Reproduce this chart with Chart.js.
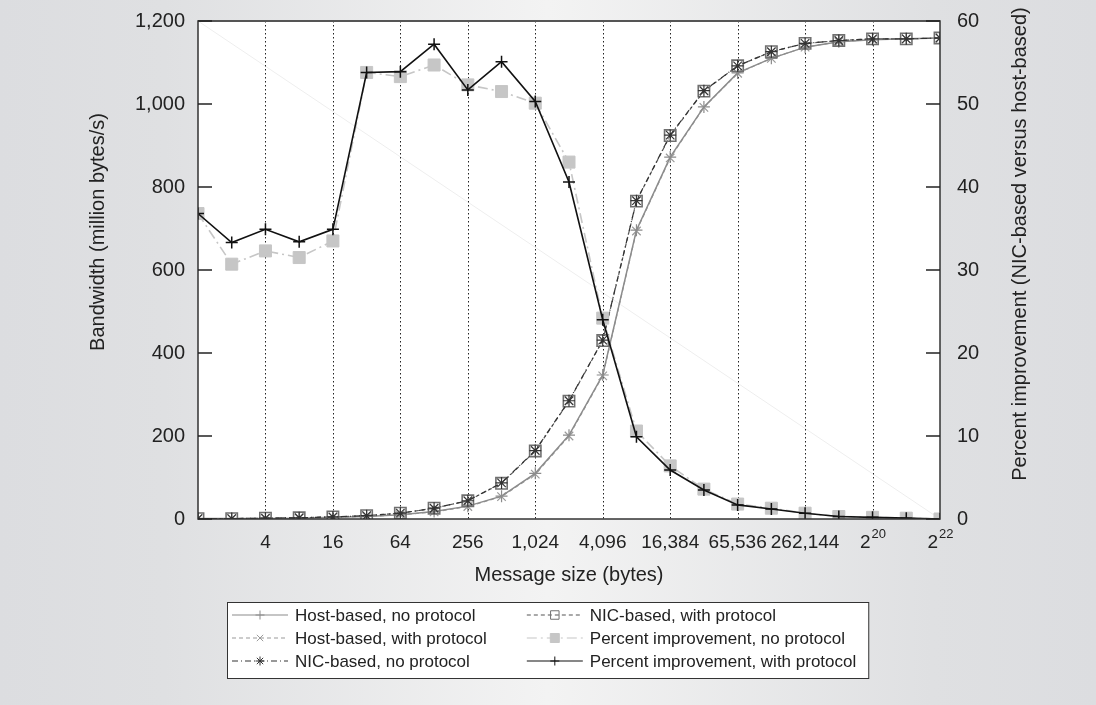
<!DOCTYPE html>
<html>
<head>
<meta charset="utf-8">
<script src="https://cdn.jsdelivr.net/npm/chart.js@4.4.0/dist/chart.umd.min.js"></script>
<style>
  html, body { margin: 0; padding: 0; }
  body {
    width: 1096px; height: 705px; overflow: hidden;
    background: linear-gradient(90deg, #dcdde0 0%, #dfe0e2 15%, #f3f3f3 50%, #dfe0e2 85%, #dcdde0 100%);
  }
  canvas { display: block; }
</style>
</head>
<body>
<canvas id="chart" width="1096" height="705"></canvas>
<script>
// message size index k means 2^k bytes
const sizeExp = [0, 1, 2, 3, 4, 5, 6, 7, 8, 9, 10, 11, 12, 13, 14, 15, 16, 17, 18, 19, 20, 21, 22];

// bandwidth, million bytes/s
const hostNoProto = [1, 1, 1, 2, 4, 6, 10, 18, 31, 55, 110, 202, 347, 696, 872, 993, 1075, 1110, 1137, 1150, 1155, 1157, 1159];
const hostProto   = [1, 1, 1, 2, 4, 6, 10, 17, 30, 54, 108, 200, 345, 694, 870, 992, 1074, 1110, 1137, 1150, 1155, 1157, 1159];
const nicNoProto  = [1, 1, 2, 3, 5, 8, 14, 26, 44, 87, 165, 285, 431, 767, 925, 1032, 1092, 1126, 1146, 1153, 1157, 1157, 1159];
const nicProto    = [1, 1, 2, 3, 5, 8, 14, 26, 44, 86, 164, 284, 430, 766, 924, 1031, 1092, 1126, 1146, 1153, 1157, 1157, 1159];

// percent improvement, NIC vs host
const pctNoProto = [36.8, 30.7, 32.3, 31.5, 33.5, 53.8, 53.3, 54.7, 52.3, 51.5, 50.1, 43.0, 24.2, 10.6, 6.4, 3.6, 1.8, 1.3, 0.7, 0.3, 0.2, 0.1, 0];
const pctProto   = [36.8, 33.3, 34.9, 33.4, 34.9, 53.8, 53.9, 57.2, 51.7, 55.1, 50.3, 40.6, 24.0, 9.9, 5.9, 3.5, 1.7, 1.2, 0.7, 0.3, 0.2, 0.1, 0];

// faint diagonal guide across the plot
const guideX = [0, 22];
const guideY = [1200, 0];

const tickExp = [2, 4, 6, 8, 10, 12, 14, 16, 18, 20, 22];
const tickLabels = ['4', '16', '64', '256', '1,024', '4,096', '16,384', '65,536', '262,144', '2^20', '2^22'];

const FONT = '"Liberation Sans", Arial, Helvetica, sans-serif';

function pts(ys, xs) {
    xs = xs || sizeExp;
    return ys.map((y, i) => ({ x: xs[i], y: y }));
}

const datasets = [
    {
        label: 'Percent improvement, with protocol',
        data: pts(pctProto), yAxisID: 'y1', order: 0,
        borderColor: '#111', borderWidth: 1.6,
        pointStyle: 'cross', pointRadius: 6, pointBorderColor: '#111', pointBorderWidth: 1.5
    },
    {
        label: 'Percent improvement, no protocol',
        data: pts(pctNoProto), yAxisID: 'y1', order: 1,
        borderColor: '#c6c6c6', borderWidth: 1.6, borderDash: [10, 4, 2, 4],
        pointStyle: 'rect', pointRadius: 8.5, pointBackgroundColor: '#c6c6c6', pointBorderColor: '#c6c6c6', pointBorderWidth: 1
    },
    {
        label: 'NIC-based, no protocol',
        data: pts(nicNoProto), yAxisID: 'y', order: 2,
        borderColor: '#333', borderWidth: 1.2, borderDash: [6, 3, 1, 3],
        pointStyle: 'star', pointRadius: 6, pointBorderColor: '#333', pointBorderWidth: 1.2
    },
    {
        label: 'NIC-based, with protocol',
        data: pts(nicProto), yAxisID: 'y', order: 3,
        borderColor: '#555', borderWidth: 1.2, borderDash: [4, 3],
        pointStyle: 'rect', pointRadius: 8, pointBackgroundColor: 'rgba(0,0,0,0)', pointBorderColor: '#707070', pointBorderWidth: 1.6
    },
    {
        label: 'Host-based, no protocol',
        data: pts(hostNoProto), yAxisID: 'y', order: 4,
        borderColor: '#8c8c8c', borderWidth: 1.5,
        pointStyle: 'cross', pointRadius: 6, pointBorderColor: '#8c8c8c', pointBorderWidth: 1.2
    },
    {
        label: 'Host-based, with protocol',
        data: pts(hostProto), yAxisID: 'y', order: 5,
        borderColor: '#9a9a9a', borderWidth: 1.2, borderDash: [4, 3],
        pointStyle: 'crossRot', pointRadius: 6, pointBorderColor: '#9a9a9a', pointBorderWidth: 1.2
    },
    {
        label: 'guide',
        data: pts(guideY, guideX), yAxisID: 'y', order: 6,
        borderColor: 'rgba(0,0,0,0.07)', borderWidth: 1, pointRadius: 0
    }
];

const legendCols = [
    ['Host-based, no protocol', 'Host-based, with protocol', 'NIC-based, no protocol'],
    ['NIC-based, with protocol', 'Percent improvement, no protocol', 'Percent improvement, with protocol']
];

function drawSuperLabel(ctx, text, x, y) {
    const parts = text.split('^');
    ctx.font = '19px ' + FONT;
    if (parts.length === 1) {
        ctx.textAlign = 'center';
        ctx.fillText(text, x, y);
        return;
    }
    const wb = ctx.measureText(parts[0]).width;
    ctx.font = '13px ' + FONT;
    const we = ctx.measureText(parts[1]).width;
    const x0 = x - (wb + we) / 2;
    ctx.textAlign = 'left';
    ctx.font = '19px ' + FONT;
    ctx.fillText(parts[0], x0, y);
    ctx.font = '13px ' + FONT;
    ctx.fillText(parts[1], x0 + wb + 1, y - 9);
}

// hide the automatic label overhang so the plot box keeps its place
function fixPad(scale) {
    scale.paddingTop = 0;
    scale.paddingBottom = 0;
}

const framePlugin = {
    id: 'frame',
    beforeDatasetsDraw(chart) {
        const { ctx, chartArea: a, scales } = chart;
        ctx.save();
        ctx.fillStyle = '#fff';
        ctx.fillRect(a.left, a.top, a.right - a.left, a.bottom - a.top);
        // dotted verticals at labelled sizes
        ctx.strokeStyle = '#222';
        ctx.lineWidth = 1;
        ctx.setLineDash([1.5, 2.5]);
        tickExp.forEach(k => {
            if (k >= 22) return;
            const x = Math.round(scales.x.getPixelForValue(k)) + 0.5;
            ctx.beginPath();
            ctx.moveTo(x, a.top);
            ctx.lineTo(x, a.bottom);
            ctx.stroke();
        });
        ctx.restore();
    },
    afterDatasetsDraw(chart) {
        const { ctx, chartArea: a, scales } = chart;
        ctx.save();
        ctx.setLineDash([]);
        ctx.strokeStyle = '#333';
        ctx.lineWidth = 1.5;
        ctx.strokeRect(a.left, a.top, a.right - a.left, a.bottom - a.top);
        ctx.lineWidth = 2;
        ctx.strokeStyle = '#555';
        ctx.beginPath();
        ctx.moveTo(a.left, a.top);
        ctx.lineTo(a.right, a.top);
        ctx.stroke();

        // inward tick marks on both value axes
        ctx.lineWidth = 1.5;
        ctx.strokeStyle = '#222';
        scales.y.ticks.forEach(t => {
            const y = scales.y.getPixelForValue(t.value);
            ctx.beginPath();
            ctx.moveTo(a.left, y);
            ctx.lineTo(a.left + 14, y);
            ctx.stroke();
        });
        scales.y1.ticks.forEach(t => {
            const y = scales.y1.getPixelForValue(t.value);
            ctx.beginPath();
            ctx.moveTo(a.right, y);
            ctx.lineTo(a.right - 14, y);
            ctx.stroke();
        });

        // x tick labels
        ctx.fillStyle = '#222';
        ctx.textBaseline = 'middle';
        tickExp.forEach((k, i) => {
            drawSuperLabel(ctx, tickLabels[i], scales.x.getPixelForValue(k), a.bottom + 24);
        });

        // axis titles
        ctx.font = '20px ' + FONT;
        ctx.textAlign = 'center';
        ctx.fillText('Message size (bytes)', (a.left + a.right) / 2, a.bottom + 56);
        ctx.save();
        ctx.translate(98, 232);
        ctx.rotate(-Math.PI / 2);
        ctx.fillText('Bandwidth (million bytes/s)', 0, 0);
        ctx.restore();
        ctx.save();
        ctx.translate(1020, 244);
        ctx.rotate(-Math.PI / 2);
        ctx.fillText('Percent improvement (NIC-based versus host-based)', 0, 0);
        ctx.restore();

        drawLegend(chart);
        ctx.restore();
    }
};

function drawLegend(chart) {
    const ctx = chart.ctx;
    const byLabel = {};
    chart.data.datasets.forEach(d => { byLabel[d.label] = d; });
    ctx.font = '17px ' + FONT;
    const colW = legendCols.map(c => Math.max(...c.map(s => ctx.measureText(s).width)));
    const x0 = 227, y0 = 602, rowH = 23, sampleW = 56;
    const colX = [x0 + 5, x0 + 5 + sampleW + 7 + colW[0] + 40];
    const boxW = colX[1] + sampleW + 7 + colW[1] + 12 - x0;

    ctx.fillStyle = '#fff';
    ctx.fillRect(x0, y0, boxW, 76);
    ctx.strokeStyle = '#333';
    ctx.lineWidth = 1;
    ctx.strokeRect(x0 + 0.5, y0 + 0.5, boxW, 76);

    legendCols.forEach((col, ci) => {
        col.forEach((label, ri) => {
            const d = byLabel[label];
            const y = y0 + 13 + ri * rowH;
            const sx = colX[ci];
            ctx.save();
            ctx.strokeStyle = d.borderColor;
            ctx.lineWidth = 1.2;
            ctx.setLineDash(d.borderDash || []);
            ctx.beginPath();
            ctx.moveTo(sx, y);
            ctx.lineTo(sx + sampleW, y);
            ctx.stroke();
            ctx.setLineDash([]);
            ctx.strokeStyle = d.pointBorderColor;
            ctx.fillStyle = d.pointBackgroundColor || 'rgba(0,0,0,0)';
            ctx.lineWidth = 1;
            Chart.helpers.drawPoint(ctx, {
                pointStyle: d.pointStyle, rotation: 0,
                radius: d.pointRadius * 0.75, borderWidth: 1
            }, sx + sampleW / 2, y);
            ctx.restore();
            ctx.fillStyle = '#222';
            ctx.textAlign = 'left';
            ctx.textBaseline = 'middle';
            ctx.fillText(label, sx + sampleW + 7, y + 1);
        });
    });
}

new Chart(document.getElementById('chart'), {
    type: 'line',
    data: { datasets: datasets },
    options: {
        responsive: false,
        animation: false,
        layout: { padding: { top: 21, left: 0, right: 0, bottom: 0 } },
        elements: { line: { tension: 0, fill: false } },
        plugins: { legend: { display: false }, tooltip: { enabled: false } },
        scales: {
            x: {
                type: 'linear', min: 0, max: 22,
                grid: { display: false, drawTicks: false },
                border: { display: false },
                ticks: { display: false },
                afterFit(scale) { scale.height = 186; }
            },
            y: {
                position: 'left', min: 0, max: 1200,
                grid: { display: false, drawTicks: false },
                border: { display: false },
                ticks: {
                    stepSize: 200, padding: 13, color: '#222',
                    font: { size: 20, family: FONT },
                    callback: v => v.toLocaleString('en-US')
                },
                afterFit(scale) { scale.width = 198; fixPad(scale); }
            },
            y1: {
                position: 'right', min: 0, max: 60,
                grid: { display: false, drawTicks: false },
                border: { display: false },
                ticks: {
                    stepSize: 10, padding: 17, color: '#222',
                    font: { size: 20, family: FONT }
                },
                afterFit(scale) { scale.width = 156; fixPad(scale); }
            }
        }
    },
    plugins: [framePlugin]
});
</script>
</body>
</html>
